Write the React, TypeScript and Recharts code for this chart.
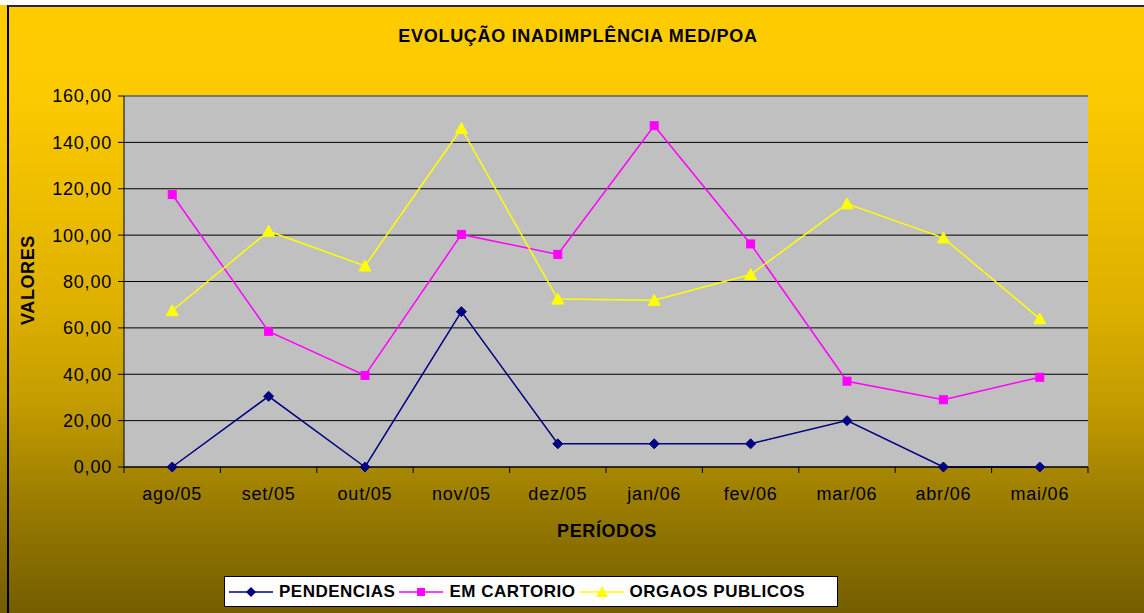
import React from "react";
import {
  CartesianGrid,
  Line,
  LineChart,
  ReferenceLine,
  Text,
  XAxis,
  YAxis,
} from "recharts";

const periods = ["ago/05", "set/05", "out/05", "nov/05", "dez/05", "jan/06", "fev/06", "mar/06", "abr/06", "mai/06"];
const pendencias = [0, 30.5, 0, 67, 10, 10, 10, 20, 0, 0];
const emCartorio = [117.5, 58.5, 39.5, 100.3, 91.7, 147.2, 96.2, 37, 29, 38.7];
const orgaosPublicos = [67.4, 101.7, 86.7, 146, 72.4, 71.9, 83, 113.5, 98.8, 63.9];
const yTicks = [0, 20, 40, 60, 80, 100, 120, 140, 160];

const data = periods.map((p, i) => ({
  period: p,
  pend: pendencias[i],
  cart: emCartorio[i],
  org: orgaosPublicos[i],
}));

const NAVY = "#000080";
const MAGENTA = "#FF00FF";
const YELLOW = "#FFFF00";
const FONT = '"Liberation Sans", Arial, sans-serif';

const CHART_W = 1144;
const MARGIN = { top: 96, right: 56, left: 64, bottom: 106 };
const Y_AXIS_W = 60;
const PLOT_W = CHART_W - MARGIN.left - MARGIN.right - Y_AXIS_W;
const LABEL_GAP = 20;

const fmt = (v: number) => v.toFixed(2).replace(".", ",");

// marcadores estilo Excel
const Diamond = (props: any) => {
  const { cx, cy } = props;
  if (cx == null || cy == null) return null;
  const r = 5;
  return (
    <polygon
      points={`${cx},${cy - r} ${cx + r},${cy} ${cx},${cy + r} ${cx - r},${cy}`}
      fill={NAVY}
      stroke={NAVY}
      strokeWidth={1}
    />
  );
};

const Square = (props: any) => {
  const { cx, cy } = props;
  if (cx == null || cy == null) return null;
  return <rect x={cx - 4} y={cy - 4} width={8} height={8} fill={MAGENTA} stroke={MAGENTA} />;
};

const Triangle = (props: any) => {
  const { cx, cy } = props;
  if (cx == null || cy == null) return null;
  return (
    <polygon
      points={`${cx},${cy - 6} ${cx + 6},${cy + 5} ${cx - 6},${cy + 5}`}
      fill={YELLOW}
      stroke={YELLOW}
    />
  );
};

// rótulo da categoria + marquinhas entre categorias (como no Excel)
const CatTick = (props: any) => {
  const { x, y, payload, index, visibleTicksCount } = props;
  const half = PLOT_W / periods.length / 2;
  const axisY = y - LABEL_GAP;
  const last = index === (visibleTicksCount ?? periods.length) - 1;
  return (
    <g>
      <line x1={x - half} y1={axisY} x2={x - half} y2={axisY + 6} stroke="#000" />
      {last && <line x1={x + half} y1={axisY} x2={x + half} y2={axisY + 6} stroke="#000" />}
      <Text
        x={x}
        y={y}
        textAnchor="middle"
        verticalAnchor="start"
        fontSize={18}
        fontFamily={FONT}
        fill="#000"
        style={{ letterSpacing: 0.8 }}
      >
        {payload.value}
      </Text>
    </g>
  );
};

function LegendSample({ color, kind }: { color: string; kind: "d" | "s" | "t" }) {
  return (
    <svg width={44} height={12} style={{ display: "block" }}>
      <line x1={0} y1={6} x2={44} y2={6} stroke={color} strokeWidth={1.5} />
      {kind === "d" && <polygon points="22,1 27,6 22,11 17,6" fill={color} />}
      {kind === "s" && <rect x={18} y={2} width={8} height={8} fill={color} />}
      {kind === "t" && <polygon points="22,0 28,11 16,11" fill={color} />}
    </svg>
  );
}

const legendItems = [
  { name: "PENDENCIAS", color: NAVY, kind: "d" as const },
  { name: "EM CARTORIO", color: MAGENTA, kind: "s" as const },
  { name: "ORGAOS PUBLICOS", color: YELLOW, kind: "t" as const },
];

export default function App() {
  const tickStyle = { fontSize: 18, fill: "#000", fontFamily: FONT, letterSpacing: 0.8 };

  return (
    <div
      style={{
        position: "absolute",
        left: 0,
        top: 0,
        width: 1144,
        height: 613,
        overflow: "hidden",
        background: "#fff",
        fontFamily: FONT,
      }}
    >
      <div
        style={{
          position: "absolute",
          left: 0,
          top: 5,
          width: 1144,
          height: 608,
          background:
            "linear-gradient(to bottom, #FFCC00 0%, #FCCA00 15%, #DDB000 50%, #C49D00 65%, #9A7C00 82%, #745D00 100%)",
        }}
      />
      <div
        style={{
          position: "absolute",
          left: 7,
          top: 5,
          width: 1150,
          height: 620,
          borderTop: "2px solid #2b2718",
          borderLeft: "2px solid #000",
        }}
      />

      <div
        style={{
          position: "absolute",
          left: 0,
          width: 1156,
          top: 26,
          textAlign: "center",
          fontSize: 18,
          fontWeight: "bold",
          letterSpacing: 0.7,
        }}
      >
        EVOLUÇÃO INADIMPLÊNCIA MED/POA
      </div>

      <div style={{ position: "absolute", left: 0, top: 0 }}>
        <LineChart width={CHART_W} height={613} data={data} margin={MARGIN}>
          <CartesianGrid
            xAxisId="cat"
            yAxisId="v"
            vertical={false}
            stroke="#000"
            fill="#C0C0C0"
            fillOpacity={1}
          />
          <XAxis
            xAxisId="cat"
            dataKey="period"
            scale="band"
            height={40}
            axisLine={{ stroke: "#000" }}
            tickLine={false}
            tickSize={0}
            tickMargin={LABEL_GAP}
            tick={<CatTick />}
            interval={0}
          />
          <YAxis
            yAxisId="v"
            domain={[0, 160]}
            ticks={yTicks}
            tickFormatter={fmt}
            width={Y_AXIS_W}
            axisLine={{ stroke: "#000" }}
            tickLine={{ stroke: "#000" }}
            tickSize={6}
            tickMargin={6}
            tick={tickStyle}
          />
          <YAxis
            yAxisId="r"
            orientation="right"
            domain={[0, 160]}
            width={0}
            tick={false}
            tickLine={false}
            axisLine={{ stroke: "#808080", strokeWidth: 1.5 }}
          />
          <ReferenceLine xAxisId="cat" yAxisId="v" y={160} stroke="#808080" strokeWidth={1.5} />
          <Line
            xAxisId="cat"
            yAxisId="v"
            dataKey="pend"
            name="PENDENCIAS"
            stroke={NAVY}
            strokeWidth={1.5}
            dot={<Diamond />}
            isAnimationActive={false}
          />
          <Line
            xAxisId="cat"
            yAxisId="v"
            dataKey="cart"
            name="EM CARTORIO"
            stroke={MAGENTA}
            strokeWidth={1.5}
            dot={<Square />}
            isAnimationActive={false}
          />
          <Line
            xAxisId="cat"
            yAxisId="v"
            dataKey="org"
            name="ORGAOS PUBLICOS"
            stroke={YELLOW}
            strokeWidth={1.5}
            dot={<Triangle />}
            isAnimationActive={false}
          />
        </LineChart>
      </div>

      <div
        style={{
          position: "absolute",
          left: 28,
          top: 280,
          transform: "translate(-50%, -50%) rotate(-90deg)",
          fontSize: 18,
          fontWeight: "bold",
          whiteSpace: "nowrap",
          letterSpacing: 0.6,
        }}
      >
        VALORES
      </div>
      <div
        style={{
          position: "absolute",
          left: 607,
          top: 531,
          transform: "translate(-50%, -50%)",
          fontSize: 18,
          fontWeight: "bold",
          whiteSpace: "nowrap",
          letterSpacing: 0.6,
        }}
      >
        PERÍODOS
      </div>

      <div
        style={{
          position: "absolute",
          left: 224,
          top: 576,
          width: 612,
          height: 29,
          background: "#fff",
          border: "1px solid #000",
          display: "flex",
          alignItems: "center",
          fontSize: 17,
          fontWeight: "bold",
          letterSpacing: 0.5,
        }}
      >
        {legendItems.map((it) => (
          <div key={it.name} style={{ display: "flex", alignItems: "center", marginLeft: 4 }}>
            <LegendSample color={it.color} kind={it.kind} />
            <span style={{ marginLeft: 6, whiteSpace: "nowrap" }}>{it.name}</span>
          </div>
        ))}
      </div>
    </div>
  );
}
